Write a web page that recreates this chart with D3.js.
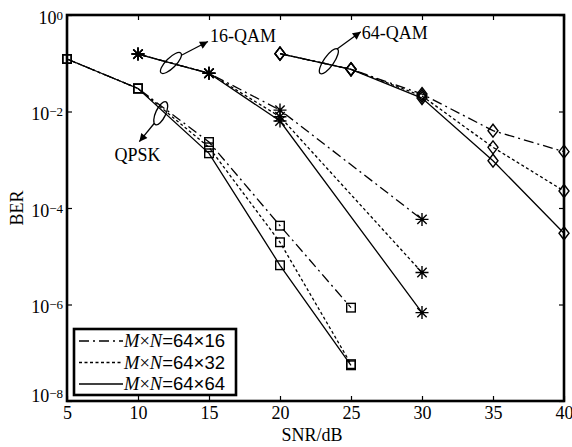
<!DOCTYPE html>
<html><head><meta charset="utf-8">
<script src="https://cdn.jsdelivr.net/npm/d3@7"></script>
<style>body{margin:0;background:#fff}svg{display:block}svg text{font-family:'Liberation Serif','Times New Roman',serif}</style>
</head><body>
<svg id="c" width="572" height="447"></svg>
<script>
// ---- data ----
const snrQPSK = [5, 10, 15, 20, 25];
const snr16QAM = [10, 15, 20, 30];
const snr64QAM = [20, 25, 30, 35, 40];

const qpsk_64x16 = [0.1225, 0.030, 2.33e-3, 4.3e-5, 8.6e-7];
const qpsk_64x32 = [0.1225, 0.030, 1.81e-3, 1.95e-5, 5.8e-8];
const qpsk_64x64 = [0.1225, 0.030, 1.36e-3, 6.5e-6, 5.5e-8];

const qam16_64x16 = [0.155, 0.062, 0.0107, 5.8e-5];
const qam16_64x32 = [0.155, 0.062, 7.8e-3, 4.6e-6];
const qam16_64x64 = [0.155, 0.062, 6.35e-3, 6.8e-7];

const qam64_64x16 = [0.158, 0.075, 0.023, 4.0e-3, 1.47e-3];
const qam64_64x32 = [0.158, 0.075, 0.021, 1.81e-3, 2.25e-4];
const qam64_64x64 = [0.158, 0.075, 0.019, 9.55e-4, 2.99e-5];

const legendSizes = ["64×16", "64×32", "64×64"];
const xTicks = [5, 10, 15, 20, 25, 30, 35, 40];
const yTickExps = [0, -2, -4, -6, -8];
const annotLabels = ["16-QAM", "QPSK", "64-QAM"];
const annotAnchors = [[12.32, 0.1012], [11.6, 9.2e-3], [23.44, 0.1103]];

// ---- chart ----
const svg = d3.select("#c");
const L = 67, R = 564, T = 15, B = 401;
const x = d3.scaleLinear().domain([5, 40]).range([L, R]);
const y = d3.scaleLog().domain([1, 1e-8]).range([T, B]);
const serif = "'Liberation Serif','Times New Roman',serif";

const dashes = ["10,4,2,4", "3,2.5", null];

const groups = [
  {snr: snrQPSK, series: [qpsk_64x16, qpsk_64x32, qpsk_64x64], marker: "square"},
  {snr: snr16QAM, series: [qam16_64x16, qam16_64x32, qam16_64x64], marker: "star"},
  {snr: snr64QAM, series: [qam64_64x16, qam64_64x32, qam64_64x64], marker: "diamond"}
];

const line = d3.line().x(d => x(d[0])).y(d => y(d[1]));

const plot = svg.append("g");
groups.forEach(g => {
  g.series.forEach((s, i) => {
    const pts = g.snr.map((v, k) => [v, s[k]]);
    plot.append("path").attr("d", line(pts))
      .attr("fill", "none").attr("stroke", "#000").attr("stroke-width", 1.3)
      .attr("stroke-dasharray", dashes[i]);
  });
});
function drawMarker(sel, type, cx, cy) {
  if (type === "square") {
    sel.append("rect").attr("x", cx - 4.3).attr("y", cy - 4.3).attr("width", 8.6).attr("height", 8.6)
      .attr("fill", "none").attr("stroke", "#000").attr("stroke-width", 1.4);
  } else if (type === "diamond") {
    sel.append("path").attr("d", `M${cx},${cy-6.5}L${cx+5},${cy}L${cx},${cy+6.5}L${cx-5},${cy}Z`)
      .attr("fill", "none").attr("stroke", "#000").attr("stroke-width", 1.4);
  } else {
    const r = 6.5, d = r * 0.72;
    sel.append("path").attr("d",
      `M${cx-r},${cy}L${cx+r},${cy}M${cx},${cy-r}L${cx},${cy+r}M${cx-d},${cy-d}L${cx+d},${cy+d}M${cx-d},${cy+d}L${cx+d},${cy-d}`)
      .attr("fill", "none").attr("stroke", "#000").attr("stroke-width", 1.4);
  }
}
groups.forEach(g => {
  g.series.forEach(s => {
    g.snr.forEach((v, k) => drawMarker(plot, g.marker, x(v), y(s[k])));
  });
});

// ---- axes ----
const yTickVals = yTickExps.map(e => Math.pow(10, e));
const ax = svg.append("g");
const xb = ax.append("g").attr("transform", `translate(0,${B})`)
  .call(d3.axisBottom(x).tickValues(xTicks).tickSize(-5).tickPadding(5).tickFormat(d3.format("d")));
const xt = ax.append("g").attr("transform", `translate(0,${T})`)
  .call(d3.axisTop(x).tickValues(xTicks).tickSize(-5).tickFormat(""));
const yl = ax.append("g").attr("transform", `translate(${L},0)`)
  .call(d3.axisLeft(y).tickValues(yTickVals).tickSize(-5).tickPadding(4).tickFormat(""));
const yr = ax.append("g").attr("transform", `translate(${R},0)`)
  .call(d3.axisRight(y).tickValues(yTickVals).tickSize(-5).tickFormat(""));
ax.selectAll("g").attr("font-family", serif);
ax.selectAll(".domain").remove();
ax.selectAll(".tick line").attr("stroke", "#000").attr("stroke-width", 1.2);
xb.selectAll("text").attr("font-family", serif).attr("font-size", 18).attr("fill", "#000");

yl.selectAll(".tick").each(function(d, i) {
  const e = Math.round(Math.log10(d));
  const t = d3.select(this).select("text").text(null)
    .attr("font-family", serif).attr("fill", "#000").attr("x", -4)
    .attr("dy", null).attr("y", e === -8 ? 0 : 8).attr("text-anchor", "end");
  t.append("tspan").attr("font-size", 18).text("10");
  t.append("tspan").attr("font-size", 13).attr("dy", -4).text(e === 0 ? "0" : "\u2212" + Math.abs(e));
});

svg.append("rect").attr("x", L).attr("y", T).attr("width", R - L).attr("height", B - T)
  .attr("fill", "none").attr("stroke", "#000").attr("stroke-width", 2.6);

svg.append("text").attr("x", 312).attr("y", 441).attr("text-anchor", "middle")
  .attr("font-family", serif).attr("font-size", 18).text("SNR/dB");
svg.append("text").attr("transform", "translate(23,208) rotate(-90)").attr("text-anchor", "middle")
  .attr("font-family", serif).attr("font-size", 18).text("BER");

// ---- annotations ----
const defs = svg.append("defs");
defs.append("marker").attr("id", "ah").attr("viewBox", "0 0 10 10").attr("refX", 10).attr("refY", 5)
  .attr("markerWidth", 11).attr("markerHeight", 8).attr("markerUnits", "userSpaceOnUse")
  .attr("orient", "auto").append("path").attr("d", "M0,0L10,5L0,10Z").attr("fill", "#000");
const annotGeom = [
  {rx: 5, ry: 14, rot: 45, a0: [11, -8], a1: [37, -21.5], t: [39, -21.5], anchor: "start"},
  {rx: 5, ry: 12.5, rot: 25, a0: [-6.4, 10], a1: [-21.4, 28.4], t: [-23.2, 47.7], anchor: "middle"},
  {rx: 5, ry: 15, rot: 35, a0: [7.9, -11.9], a1: [31.9, -29.5], t: [32.9, -21.7], anchor: "start"}
];
annotLabels.forEach((lab, i) => {
  const cx = x(annotAnchors[i][0]), cy = y(annotAnchors[i][1]);
  const g = annotGeom[i];
  svg.append("ellipse").attr("cx", 0).attr("cy", 0).attr("rx", g.rx).attr("ry", g.ry)
    .attr("transform", `translate(${cx},${cy}) rotate(${g.rot})`)
    .attr("fill", "none").attr("stroke", "#000").attr("stroke-width", 1.3);
  svg.append("line").attr("x1", cx + g.a0[0]).attr("y1", cy + g.a0[1])
    .attr("x2", cx + g.a1[0]).attr("y2", cy + g.a1[1])
    .attr("stroke", "#000").attr("stroke-width", 1.3).attr("marker-end", "url(#ah)");
  svg.append("text").attr("x", cx + g.t[0]).attr("y", cy + g.t[1]).attr("text-anchor", g.anchor)
    .attr("font-family", serif).attr("font-size", 18).text(lab);
});

// ---- legend ----
const lg = svg.append("g");
lg.append("rect").attr("x", 74).attr("y", 329).attr("width", 162).attr("height", 66)
  .attr("fill", "#fff").attr("stroke", "#000").attr("stroke-width", 2.6);
legendSizes.forEach((s, i) => {
  const ly = 341 + i * 21.5;
  lg.append("line").attr("x1", 79).attr("x2", 123).attr("y1", ly).attr("y2", ly)
    .attr("stroke", "#000").attr("stroke-width", 1.3).attr("stroke-dasharray", dashes[i]);
  const t = lg.append("text").attr("x", 124).attr("y", ly + 6).attr("font-size", 18.5).attr("font-family", serif);
  t.append("tspan").attr("font-style", "italic").text("M");
  t.append("tspan").text("×");
  t.append("tspan").attr("font-style", "italic").text("N");
  t.append("tspan").attr("style", "font-family:'Liberation Sans',Arial,sans-serif").text("=" + s);
});
</script>
</body></html>
